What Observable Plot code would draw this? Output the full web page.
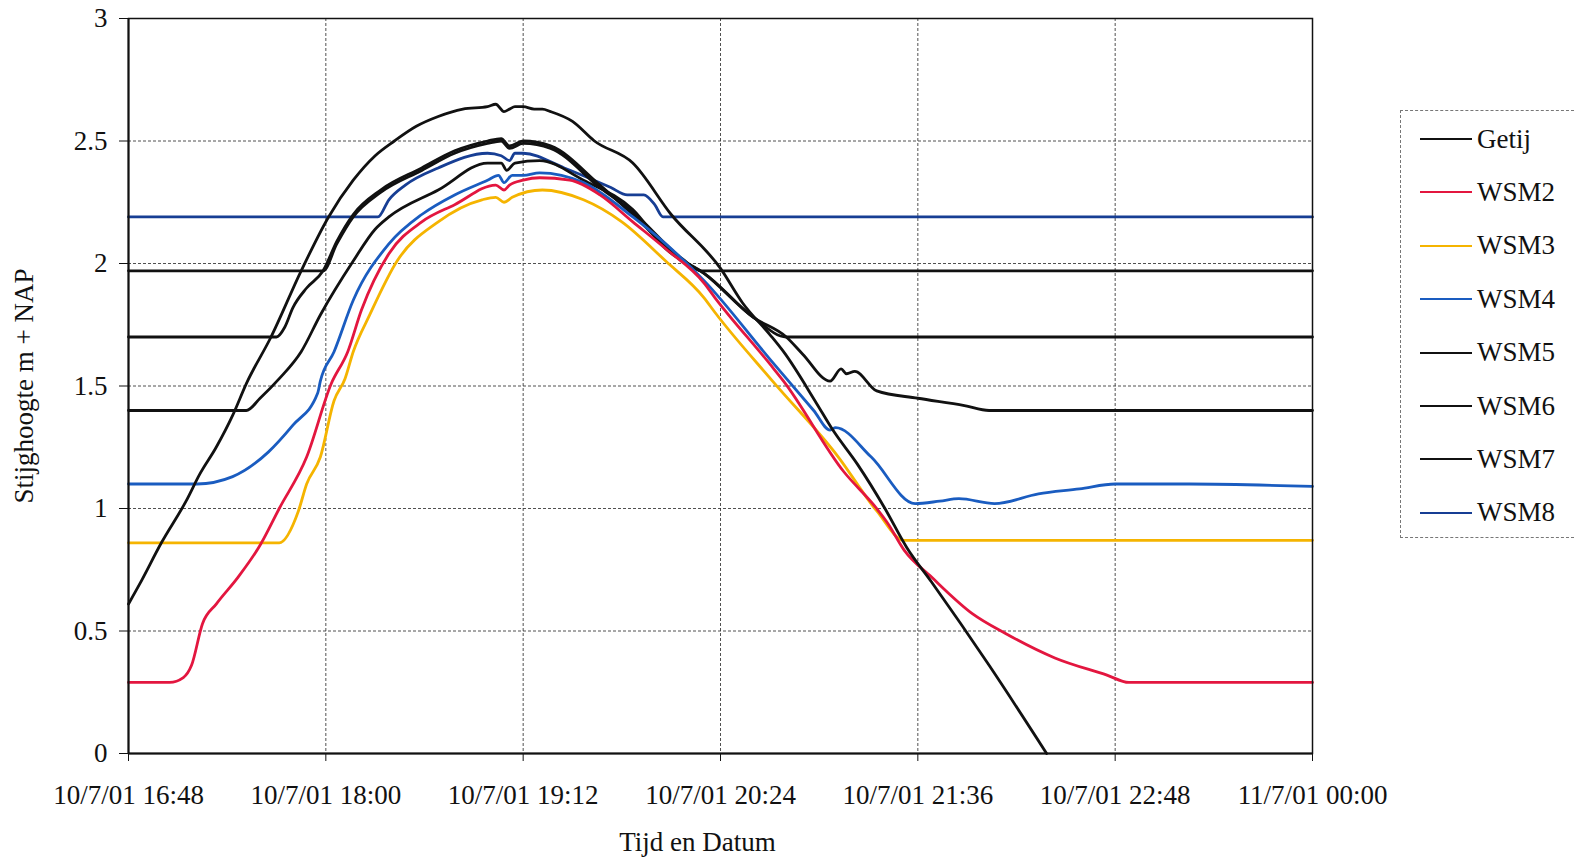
<!DOCTYPE html>
<html>
<head>
<meta charset="utf-8">
<script src="https://cdn.jsdelivr.net/npm/d3@7"></script>
<script src="https://cdn.jsdelivr.net/npm/@observablehq/plot@0.6"></script>
<style>
  html, body { margin: 0; padding: 0; background: #fff; }
  #wrap { position: relative; width: 1574px; height: 861px; font-family: "Liberation Serif", "Times New Roman", serif; }
  #chart { position: absolute; left: 0; top: 0; }
  #legend { position: absolute; left: 1400px; top: 110px; width: 174px; height: 428px; border: 1px dashed #777; border-right: none; box-sizing: border-box; }
  .row { position: absolute; left: 0; height: 32px; display: flex; align-items: center; font-size: 27px; color: #111; white-space: nowrap; }
  .sw { width: 52px; height: 0; border-top: 2.6px solid #000; margin-left: 19px; margin-right: 5px; }
</style>
</head>
<body>
<div id="wrap"><div id="chart"></div><div id="legend"></div></div>
<script>
// ---- data (time of day on 10/7/01, value m + NAP) ----
const seriesNames = ["Getij", "WSM2", "WSM3", "WSM4", "WSM5", "WSM6", "WSM7", "WSM8"];
const seriesColors = ["#111111", "#e3163f", "#f5b400", "#1a5cc0", "#111111", "#111111", "#111111", "#173e94"];

const getij = [["16:48",0.61],["16:52",0.69],["17:00",0.86],["17:09",1.03],["17:14",1.14],["17:20",1.25],["17:26",1.38],["17:31",1.51],["17:40",1.70],["17:51",1.97],["18:01",2.19],["18:10",2.34],["18:18",2.44],["18:25",2.50],["18:33",2.56],["18:41",2.60],["18:50",2.63],["18:59",2.64],["19:02",2.65],["19:05",2.62],["19:07",2.63],["19:09",2.64],["19:12",2.64],["19:16",2.63],["19:19",2.63],["19:22",2.62],["19:30",2.58],["19:38",2.50],["19:52",2.41],["20:06",2.20],["20:24",1.98],["20:32",1.84],["20:42",1.71],["20:47",1.64],["20:59",1.43],["21:05",1.32],["21:14",1.18],["21:24",1.00],["21:32",0.84],["21:41",0.70],["22:02",0.36],["22:23",0.00]];

const wsm2 = [["16:48",0.29],["17:03",0.29],["17:08",0.31],["17:11",0.36],["17:15",0.53],["17:20",0.61],["17:28",0.72],["17:36",0.85],["17:43",1.00],["17:53",1.21],["18:02",1.51],["18:08",1.64],["18:13",1.81],["18:23",2.04],["18:35",2.17],["18:47",2.24],["19:02",2.32],["19:05",2.30],["19:07",2.32],["19:12",2.34],["19:18",2.35],["19:29",2.34],["19:40",2.28],["19:52",2.17],["20:04",2.06],["20:18",1.92],["20:22",1.86],["20:42",1.59],["20:47",1.52],["21:09",1.15],["21:21",1.00],["21:25",0.94],["21:31",0.83],["21:41",0.72],["21:56",0.57],["22:08",0.49],["22:26",0.39],["22:45",0.32],["22:53",0.29],["24:00",0.29]];

const wsm3 = [["16:48",0.86],["17:43",0.86],["17:50",0.99],["17:53",1.10],["17:58",1.21],["18:03",1.44],["18:07",1.53],["18:10",1.64],["18:16",1.79],["18:26",2.01],["18:41",2.17],["18:57",2.26],["19:02",2.27],["19:05",2.25],["19:08",2.27],["19:19",2.30],["19:34",2.26],["19:48",2.17],["20:04",2.01],["20:18",1.86],["20:22",1.80],["20:43",1.52],["21:07",1.21],["21:21",0.99],["21:31",0.87],["24:00",0.87]];

const wsm4 = [["16:48",1.10],["17:13",1.10],["17:26",1.13],["17:39",1.23],["17:48",1.34],["17:57",1.47],["17:58",1.52],["18:03",1.64],["18:10",1.85],["18:23",2.08],["18:35",2.20],["18:47",2.28],["18:59",2.34],["19:03",2.36],["19:05",2.33],["19:08",2.36],["19:12",2.36],["19:18",2.37],["19:34",2.33],["19:52",2.19],["20:04",2.08],["20:18",1.93],["20:42",1.61],["20:58",1.40],["21:04",1.32],["21:06",1.33],["21:19",1.21],["21:35",1.02],["21:44",1.03],["21:51",1.04],["22:04",1.02],["22:20",1.06],["22:35",1.08],["22:48",1.10],["23:15",1.10],["24:00",1.09]];

const wsm5 = [["16:48",1.40],["17:31",1.40],["17:36",1.45],["17:43",1.53],["17:51",1.64],["17:58",1.79],["18:10",2.01],["18:18",2.14],["18:23",2.19],["18:41",2.30],["18:59",2.41],["19:04",2.41],["19:06",2.38],["19:09",2.41],["19:18",2.42],["19:34",2.34],["19:52",2.22],["20:04",2.06],["20:18",1.96],["20:36",1.78],["20:48",1.70],["20:54",1.63],["21:04",1.52],["21:08",1.57],["21:10",1.55],["21:13",1.56],["21:21",1.48],["21:36",1.45],["21:53",1.42],["22:02",1.40],["24:00",1.40]];

const wsm6 = [["16:48",1.70],["17:42",1.70],["17:45",1.74],["17:48",1.82],["17:53",1.90],["17:59",1.97],["18:04",2.09],["18:10",2.20],["18:20",2.30],["18:35",2.39],["18:47",2.46],["18:59",2.50],["19:04",2.51],["19:07",2.48],["19:12",2.50],["19:22",2.48],["19:40",2.32],["19:52",2.20],["20:10",2.01],["20:18",1.96],["20:36",1.78],["20:48",1.70],["24:00",1.70]];

const wsm7 = [["16:48",1.97],["17:59",1.97],["18:04",2.08],["18:10",2.19],["18:20",2.29],["18:35",2.38],["18:47",2.45],["18:59",2.49],["19:04",2.50],["19:07",2.47],["19:12",2.49],["19:22",2.47],["19:40",2.31],["19:52",2.21],["20:10",2.02],["20:17",1.97],["24:00",1.97]];

const wsm8 = [["16:48",2.19],["18:19",2.19],["18:23",2.26],["18:29",2.32],["18:41",2.39],["18:59",2.45],["19:04",2.44],["19:07",2.42],["19:09",2.45],["19:12",2.45],["19:27",2.39],["19:44",2.31],["19:50",2.28],["19:56",2.28],["20:00",2.24],["20:03",2.19],["24:00",2.19]];

const xTickTimes = ["16:48", "18:00", "19:12", "20:24", "21:36", "22:48", "24:00"];
const xTickLabels = ["10/7/01 16:48", "10/7/01 18:00", "10/7/01 19:12", "10/7/01 20:24", "10/7/01 21:36", "10/7/01 22:48", "11/7/01 00:00"];
const yTicks = [0, 0.5, 1, 1.5, 2, 2.5, 3];
const yTickLabels = ["0", "0.5", "1", "1.5", "2", "2.5", "3"];
const xTitle = "Tijd en Datum";
const yTitle = "Stijghoogte m + NAP";

// ---- build ----
function toDate(hhmm) {
  const [h, m] = hhmm.split(":").map(Number);
  return new Date(Date.UTC(2001, 6, 10, h, m));
}
const seriesData = [getij, wsm2, wsm3, wsm4, wsm5, wsm6, wsm7, wsm8];
const rows = [];
seriesData.forEach((arr, i) => arr.forEach(([t, v]) => rows.push({series: seriesNames[i], time: toDate(t), value: v})));
const tickDates = xTickTimes.map(toDate);
const fmtX = d => xTickLabels[tickDates.findIndex(t => +t === +d)];
const fmtY = d => yTickLabels[yTicks.indexOf(d)];

const drawOrder = ["WSM8", "WSM7", "WSM6", "WSM5", "WSM4", "WSM3", "WSM2", "Getij"];

const chart = Plot.plot({
  width: 1574,
  height: 861,
  marginLeft: 128,
  marginRight: 262,
  marginTop: 18,
  marginBottom: 108,
  style: {fontFamily: "'Liberation Serif', 'Times New Roman', serif", fontSize: "27px", background: "transparent", color: "#111", overflow: "visible"},
  x: {type: "utc", domain: [tickDates[0], tickDates[tickDates.length - 1]]},
  y: {domain: [0, 3]},
  color: {domain: seriesNames, range: seriesColors},
  marks: [
    Plot.gridX(tickDates, {stroke: "#333", strokeOpacity: 0.85, strokeWidth: 1, strokeDasharray: "3,2"}),
    Plot.gridY(yTicks, {stroke: "#333", strokeOpacity: 0.85, strokeWidth: 1, strokeDasharray: "3,2"}),
    ...drawOrder.map(name => Plot.line(rows.filter(r => r.series === name), {
      x: "time", y: "value", stroke: "series", strokeWidth: 2.8, curve: "monotone-x"
    })),
    Plot.frame({stroke: "#111", strokeWidth: 1.5}),
    Plot.axisX(tickDates, {tickFormat: fmtX, tickSize: 8, tickPadding: 23, label: null, fontSize: 27}),
    Plot.axisY(yTicks, {tickFormat: fmtY, tickSize: 9, tickPadding: 12, label: null, fontSize: 27}),
    Plot.ruleX([tickDates[0]], {stroke: "#111", strokeWidth: 2}),
    Plot.ruleY([0], {stroke: "#111", strokeWidth: 2}),
    Plot.text([xTitle], {frameAnchor: "bottom", dx: -23, dy: 97, text: d => d, fontSize: 27, textAnchor: "middle"}),
    Plot.text([yTitle], {frameAnchor: "left", dx: -104, rotate: -90, text: d => d, fontSize: 27, textAnchor: "middle"})
  ]
});
document.getElementById("chart").appendChild(chart);

// legend
const legend = document.getElementById("legend");
seriesNames.forEach((name, i) => {
  const row = document.createElement("div");
  row.className = "row";
  row.style.top = (12 + i * 53.4) + "px";
  const sw = document.createElement("div");
  sw.className = "sw";
  sw.style.borderTopColor = seriesColors[i];
  const lab = document.createElement("span");
  lab.textContent = name;
  row.appendChild(sw);
  row.appendChild(lab);
  legend.appendChild(row);
});
</script>
</body>
</html>
